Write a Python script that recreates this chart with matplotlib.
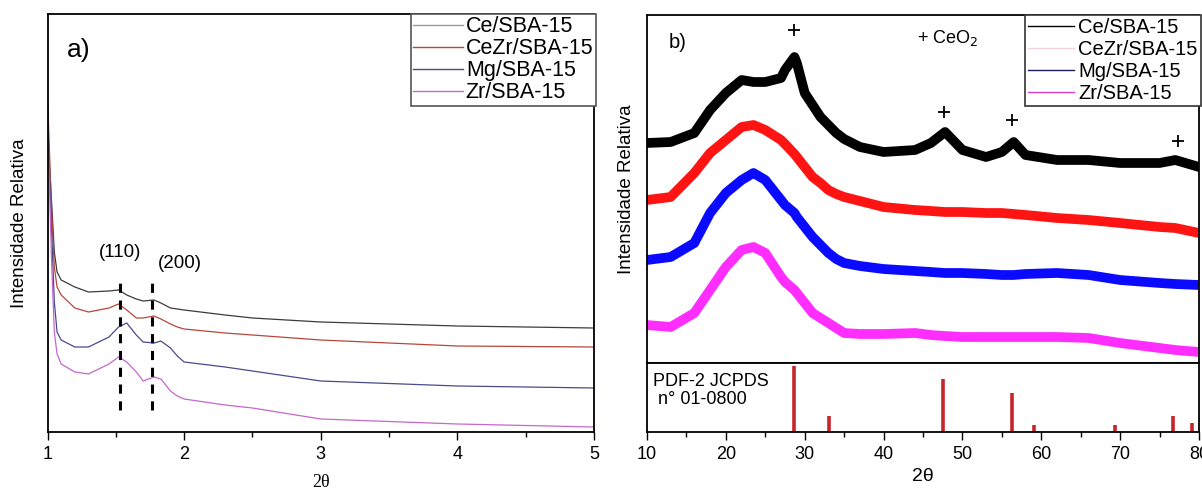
import numpy as np
import matplotlib
matplotlib.use("Agg")
import matplotlib.pyplot as plt
from matplotlib.lines import Line2D

plt.rcParams['font.family'] = ['Liberation Sans', 'DejaVu Sans']

samples = ["Ce/SBA-15", "CeZr/SBA-15", "Mg/SBA-15", "Zr/SBA-15"]

# ---- panel a: low angle XRD (offset curves, arbitrary units) ----
xa = [1.0, 1.03, 1.05, 1.07, 1.1, 1.2, 1.3, 1.45, 1.52, 1.58, 1.65, 1.7, 1.78, 1.83,
      1.9, 1.95, 2.0, 2.3, 2.5, 3.0, 4.0, 5.0]
ya_ce = [300, 230, 180, 160, 152, 145, 140, 141, 142, 137, 133, 131, 132, 129,
         124, 123, 122, 117, 114, 110, 106, 104]
ya_cezr = [336, 220, 165, 145, 137, 124, 120, 124, 128, 122, 114, 114, 116, 113,
           108, 105, 103, 99, 97, 92, 86, 85]
ya_mg = [320, 200, 130, 100, 92, 85, 85, 95, 105, 109, 97, 90, 89, 91,
         84, 76, 70, 65, 61, 51, 46, 44]
ya_zr = [315, 170, 100, 78, 68, 60, 58, 68, 75, 70, 60, 51, 55, 53,
         41, 36, 33, 27, 24, 13, 8, 5]

# reflections marked in panel a
hkl_pos = [1.53, 1.765]
hkl_text = ["(110)", "(200)"]

# ---- panel b: wide angle XRD ----
xb = [10, 13, 16, 18, 20, 22, 23.5, 25, 27, 27.5, 28.7, 29, 30, 31, 32, 33, 34, 35,
      37, 40, 44, 46, 47.8, 50, 53, 55, 56.5, 58, 62, 66, 70, 75, 77, 80]
yb_ce = [220, 221, 230, 253, 270, 283, 281, 281, 285, 293, 306, 300, 270, 258, 246, 238, 230, 224,
         216, 211, 213, 220, 231, 213, 206, 211, 221, 208, 203, 203, 200, 200, 203, 196]
yb_cezr = [163, 166, 190, 210, 223, 236, 238, 233, 223, 219, 209, 206, 196, 186, 180, 173, 169, 166,
           162, 156, 153, 152, 151, 151, 150, 150, 149, 148, 145, 143, 140, 136, 135, 130]
yb_mg = [103, 106, 120, 150, 170, 183, 190, 183, 163, 158, 150, 146, 136, 126, 118, 110, 104, 100,
         97, 94, 92, 91, 90, 90, 89, 88, 88, 89, 90, 88, 83, 80, 79, 78]
yb_zr = [38, 36, 50, 73, 96, 113, 116, 110, 86, 81, 73, 70, 60, 50, 45, 40, 35, 30,
         29, 29, 30, 28, 27, 26, 26, 26, 26, 26, 26, 25, 20, 15, 13, 11]

# CeO2 reflections (+ marks) : position, height
ceo2_x = [28.6, 47.7, 56.3, 77.3]
ceo2_y = [333, 251, 243, 222]

# PDF-2 JCPDS 01-0800 reference sticks
ref_x = [28.6, 33.1, 47.5, 56.3, 59.1, 69.4, 76.7, 79.1]
ref_i = [100, 24, 80, 60, 10, 10, 24, 14]

W, H = 1202, 490
fig = plt.figure(figsize=(W / 100, H / 100), dpi=100)

def frac(x0, y0, x1, y1):
    return [x0 / W, 1 - y1 / H, (x1 - x0) / W, (y1 - y0) / H]

# ----- a) -----
ax = fig.add_axes(frac(47.5, 14, 594, 432))
cols_a = ["#3c3c3c", "#b5473c", "#4a4a8c", "#c468cc"]
for yv, c, lab in zip([ya_ce, ya_cezr, ya_mg, ya_zr], cols_a, samples):
    ax.plot(xa, yv, color=c, lw=0.9, label=lab)
ax.set_xlim(1, 5)
ax.set_ylim(0, 418)
ax.set_yticks([])
ax.set_xticks([1, 2, 3, 4, 5])
ax.set_xticks(np.arange(1.5, 5, 1), minor=True)
ax.tick_params(axis='x', which='major', length=6, width=1, labelsize=13, direction='out', pad=4)
ax.tick_params(axis='x', which='minor', length=3.5, width=1, direction='out')
for p in hkl_pos:
    ax.plot([p, p], [22, 154], color='black', ls=(0, (3, 2.5)), lw=2.2)
ax.text(1.53, 180, hkl_text[0], ha='center', va='center', fontsize=13.5)
ax.text(1.97, 169, hkl_text[1], ha='center', va='center', fontsize=13.5)
ax.text(0.035, 0.915, "a)", transform=ax.transAxes, fontsize=19, va='center')
ax.set_ylabel("Intensidade Relativa", fontsize=13.5)
ax.yaxis.set_label_coords(-0.035, 0.5)
ax.set_xlabel("2θ", fontsize=13, family='Liberation Serif', labelpad=8)
leg_a = [Line2D([], [], color=c, lw=1) for c in ["#9a9a9a", "#b5473c", "#4a4a8c", "#c468cc"]]
lg = ax.legend(leg_a, samples, loc='upper right', bbox_to_anchor=(1.003, 1.0), fancybox=False,
               framealpha=1, edgecolor='#555555', fontsize=15.5, handlelength=2.3,
               borderaxespad=0, borderpad=0.1, labelspacing=0.05, handletextpad=0.15)
lg.get_frame().set_linewidth(1.2)
for s in ax.spines.values():
    s.set_linewidth(1.3)

# ----- b) main -----
bx = fig.add_axes(frac(647, 15, 1199, 363))
cols_b = ["#000000", "#ff1414", "#0a0aff", "#ff2eff"]
for yv, c in zip([yb_ce, yb_cezr, yb_mg, yb_zr], cols_b):
    bx.plot(xb, yv, color=c, lw=7, solid_joinstyle='round')
bx.plot(ceo2_x, ceo2_y, '+', color='black', ms=8, mew=1.3)
bx.set_xlim(10, 80)
bx.set_ylim(0, 348)
bx.set_xticks([])
bx.set_yticks([])
bx.text(0.04, 0.92, "b)", transform=bx.transAxes, fontsize=14.5, va='center')
bx.text(0.49, 0.935, "+ CeO$_2$", transform=bx.transAxes, fontsize=13, va='center')
bx.set_ylabel("Intensidade Relativa", fontsize=13.5)
bx.yaxis.set_label_coords(-0.022, 0.5)
leg_b = [Line2D([], [], color=c, lw=1) for c in ["#000000", "#f6cfe0", "#1c1c5c", "#d53fd5"]]
lg2 = bx.legend(leg_b, samples, loc='upper right', bbox_to_anchor=(1.003, 1.0), fancybox=False,
                framealpha=1, edgecolor='#333333', fontsize=14.5, handlelength=2.3,
                borderaxespad=0, borderpad=0.15, labelspacing=0.15, handletextpad=0.2)
lg2.get_frame().set_linewidth(1.2)
for s in bx.spines.values():
    s.set_linewidth(1.3)

# ----- b) reference sticks -----
rx = fig.add_axes(frac(647, 363, 1199, 432))
rx.vlines(ref_x, 0, ref_i, color='#c4262b', lw=2.6)
rx.set_xlim(10, 80)
rx.set_ylim(0, 105)
rx.set_yticks([])
rx.set_xticks(np.arange(10, 81, 10))
rx.set_xticks(np.arange(15, 80, 10), minor=True)
rx.tick_params(axis='x', which='major', length=6, width=1, labelsize=13, direction='out', pad=4)
rx.tick_params(axis='x', which='minor', length=3.5, width=1, direction='out')
rx.text(0.01, 0.86, "PDF-2 JCPDS\n n° 01-0800", transform=rx.transAxes, fontsize=13,
        va='top', linespacing=1.1)
rx.set_xlabel("2θ", fontsize=14, labelpad=4)
for s in rx.spines.values():
    s.set_linewidth(1.3)

fig.savefig("out.png", dpi=100)
